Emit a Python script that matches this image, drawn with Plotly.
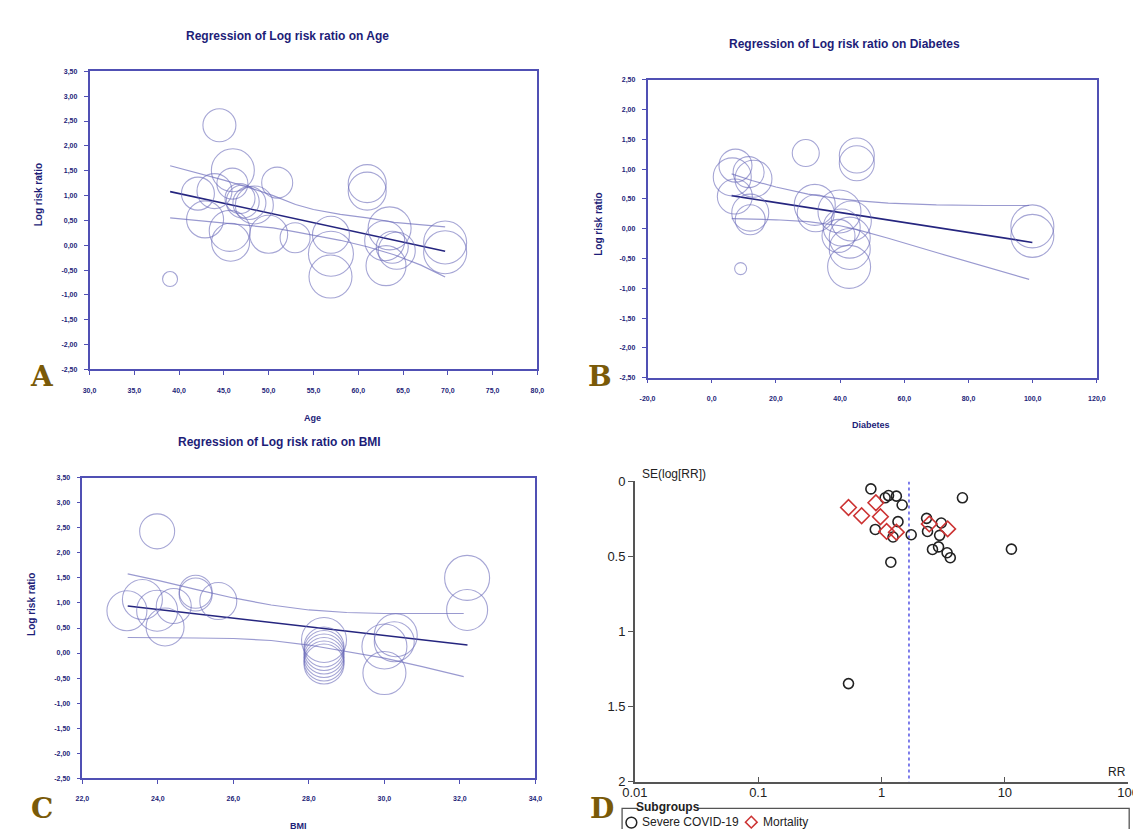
import plotly.graph_objects as go

W, H = 1141, 829

# ---------------- Panel A: Age ----------------
age = [44.5, 46.0, 50.95, 42.1, 43.95, 45.95, 46.8, 47.1, 47.85, 48.4, 42.9, 45.65, 45.75, 50.0,
       52.95, 38.99, 61.0, 61.0, 56.95, 56.95, 56.9, 63.5, 62.95, 63.8, 64.3, 63.1, 69.7, 69.7]
age_lrr = [2.415, 1.51, 1.26, 1.04, 1.09, 1.24, 0.94, 0.88, 0.85, 0.81, 0.52, 0.29, 0.06, 0.22,
           0.15, -0.68, 1.24, 1.09, 0.21, -0.17, -0.63, 0.34, 0.09, -0.04, -0.11, -0.41, 0.055, -0.14]
age_weight = [33, 43, 31, 33, 35, 31, 30, 33, 33, 38, 37, 41, 38, 38,
              30, 15, 38, 38, 37, 45, 43, 43, 40, 32, 37, 40, 43, 43]
age_fit_x = [39.0, 69.7]
age_fit_y = [1.08, -0.12]
age_ci_x = [39, 42, 45, 48, 50.5, 53, 55, 58, 61, 64, 67, 69.7]
age_ci_hi = [1.60, 1.46, 1.31, 1.15, 1.00, 0.82, 0.72, 0.62, 0.55, 0.46, 0.41, 0.37]
age_ci_lo = [0.55, 0.50, 0.45, 0.40, 0.35, 0.27, 0.20, 0.10, -0.03, -0.19, -0.40, -0.64]

# ---------------- Panel B: Diabetes ----------------
diab = [29.3, 45.2, 45.2, 7.4, 11.5, 6.4, 13.0, 7.2, 12.0, 12.0, 9.0, 32.1, 32.4, 39.8, 40.5,
        39.5, 43.5, 43.0, 43.0, 42.8, 99.9, 99.9]
diab_lrr = [1.27, 1.23, 1.10, 1.06, 0.95, 0.87, 0.84, 0.54, 0.27, 0.15, -0.67, 0.40, 0.26, 0.29,
            0.02, -0.12, 0.13, -0.15, -0.34, -0.64, 0.04, -0.12]
diab_weight = [27, 35, 35, 33, 31, 38, 37, 35, 37, 30, 12, 41, 37, 43, 37, 33, 40, 41, 41, 43, 43, 43]
diab_fit_x = [6.2, 99.9]
diab_fit_y = [0.555, -0.23]
diab_ci_x = [6.2, 12.5, 20, 30, 40, 45, 55, 70, 85, 98.9]
diab_ci_hi = [0.92, 0.81, 0.70, 0.58, 0.50, 0.47, 0.43, 0.40, 0.39, 0.39]
diab_ci_lo = [0.17, 0.165, 0.15, 0.12, 0.05, -0.01, -0.16, -0.40, -0.64, -0.85]

# ---------------- Panel C: BMI ----------------
bmi = [23.98, 23.18, 23.59, 23.98, 24.19, 24.42, 25.0, 25.0, 25.6, 28.4, 28.4, 28.4, 28.4, 28.4,
       28.4, 28.4, 30.0, 30.0, 30.3, 30.26, 32.19, 32.19]
bmi_lrr = [2.43, 0.845, 1.07, 0.845, 0.52, 0.94, 1.225, 1.17, 1.04, 0.26, 0.12, 0.05, -0.02, -0.09,
           -0.16, -0.22, 0.13, -0.40, 0.355, 0.225, 1.50, 0.86]
bmi_weight = [35, 40, 40, 41, 38, 35, 33, 33, 37, 45, 40, 40, 40, 40, 40, 40, 45, 43, 43, 40, 45, 41]
bmi_fit_x = [23.2, 32.2]
bmi_fit_y = [0.94, 0.16]
bmi_ci_x = [23.2, 24, 25, 26, 27, 28, 29, 30, 31, 32.1]
bmi_ci_hi = [1.58, 1.45, 1.27, 1.10, 0.96, 0.86, 0.81, 0.79, 0.79, 0.79]
bmi_ci_lo = [0.31, 0.31, 0.30, 0.29, 0.25, 0.16, 0.03, -0.10, -0.27, -0.47]

# ---------------- Panel D: funnel plot ----------------
severe_rr = [0.82, 1.07, 1.14, 1.32, 1.47, 4.53, 1.36, 0.89, 1.24, 1.74, 2.32, 2.36, 3.05, 2.96,
             2.59, 2.90, 3.40, 3.61, 1.19, 11.3, 0.54]
severe_se = [0.05, 0.109, 0.094, 0.098, 0.157, 0.109, 0.268, 0.32, 0.37, 0.355, 0.246, 0.333, 0.277,
             0.359, 0.453, 0.436, 0.475, 0.508, 0.538, 0.451, 1.346]
mort_rr = [0.54, 0.69, 0.90, 0.98, 1.10, 1.32, 2.44, 3.44]
mort_se = [0.174, 0.229, 0.142, 0.235, 0.333, 0.338, 0.283, 0.316]
pooled_rr = 1.67

# ticks
ab_y_ticks_A = [3.5 - 0.5 * i for i in range(13)]
ab_y_ticks_B = [2.5 - 0.5 * i for i in range(11)]
age_ticks = [30, 35, 40, 45, 50, 55, 60, 65, 70, 75, 80]
diab_ticks = [-20, 0, 20, 40, 60, 80, 100, 120]
bmi_ticks = [22, 24, 26, 28, 30, 32, 34]
d_x_ticks = [0.01, 0.1, 1, 10, 100]
d_x_text = ["0.01", "0.1", "1", "10", "100"]
d_y_ticks = [0, 0.5, 1, 1.5, 2]
d_y_text = ["0", "0.5", "1", "1.5", "2"]

NAVY = "#1d1d78"
FRAME = "#5050b4"
CIRC = "rgba(105,105,185,0.85)"
REG = "#25257f"
CI = "#9a9ad0"
GOLD = "#7a5a08"
DTXT = "#222222"


def comma(v, d):
    return f"{v:.{d}f}".replace(".", ",")


def fx(p):
    return p / W


def fy(p):
    return 1 - p / H


fig = go.Figure()


def add_panel(n, xs, ys, ws, fx_, fy_, cx, chi, clo):
    xa = "x" if n == 1 else f"x{n}"
    ya = "y" if n == 1 else f"y{n}"
    fig.add_trace(go.Scatter(x=cx, y=chi, mode="lines", line=dict(color=CI, width=1.2),
                             xaxis=xa, yaxis=ya, showlegend=False, hoverinfo="skip"))
    fig.add_trace(go.Scatter(x=cx, y=clo, mode="lines", line=dict(color=CI, width=1.2),
                             xaxis=xa, yaxis=ya, showlegend=False, hoverinfo="skip"))
    fig.add_trace(go.Scatter(x=fx_, y=fy_, mode="lines", line=dict(color=REG, width=1.6),
                             xaxis=xa, yaxis=ya, showlegend=False))
    fig.add_trace(go.Scatter(x=xs, y=ys, mode="markers", xaxis=xa, yaxis=ya, showlegend=False,
                             marker=dict(symbol="circle-open", size=ws, sizemode="diameter",
                                         color=CIRC, line=dict(width=1.1, color=CIRC))))


add_panel(1, age, age_lrr, age_weight, age_fit_x, age_fit_y, age_ci_x, age_ci_hi, age_ci_lo)
add_panel(2, diab, diab_lrr, diab_weight, diab_fit_x, diab_fit_y, diab_ci_x, diab_ci_hi, diab_ci_lo)
add_panel(3, bmi, bmi_lrr, bmi_weight, bmi_fit_x, bmi_fit_y, bmi_ci_x, bmi_ci_hi, bmi_ci_lo)

# Panel D
fig.add_trace(go.Scatter(x=[pooled_rr, pooled_rr], y=[0, 2], mode="lines", xaxis="x4", yaxis="y4",
                         line=dict(color="#3a3ae0", width=1.3, dash="3px,3px"), showlegend=False))
fig.add_trace(go.Scatter(x=severe_rr, y=severe_se, mode="markers", xaxis="x4", yaxis="y4",
                         name="Severe COVID-19", showlegend=False,
                         marker=dict(symbol="circle-open", size=10, color=DTXT,
                                     line=dict(width=1.6, color=DTXT))))
fig.add_trace(go.Scatter(x=mort_rr, y=mort_se, mode="markers", xaxis="x4", yaxis="y4",
                         name="Mortality", showlegend=False,
                         marker=dict(symbol="diamond-open", size=12, color="#cc3333",
                                     line=dict(width=1.6, color="#cc3333"))))

tick_font = dict(family="Liberation Sans", size=7, color=NAVY, weight="bold")
common = dict(showline=True, mirror=True, linecolor=FRAME, linewidth=1.5, ticks="outside",
              tickcolor=FRAME, ticklen=4, tickwidth=1.2, showgrid=False, zeroline=False,
              tickfont=tick_font, fixedrange=True)
common_x = dict(common, ticklabelstandoff=9)
common_y = dict(common, ticklabelstandoff=5)
d_font = dict(family="Liberation Sans", size=13, color=DTXT)


def dom_x(a, b):
    return [fx(a), fx(b)]


def dom_y(top, bot):
    return [fy(bot), fy(top)]


fig.update_layout(
    width=W, height=H, margin=dict(l=0, r=0, t=0, b=0),
    plot_bgcolor="white", paper_bgcolor="white",
    xaxis=dict(common_x, domain=dom_x(70, 527.5), range=[30, 80], tickvals=age_ticks,
               ticktext=[comma(v, 1) for v in age_ticks], anchor="y"),
    yaxis=dict(common_y, domain=dom_y(57.4, 361), range=[-2.5, 3.5], tickvals=ab_y_ticks_A,
               ticktext=[comma(v, 2) for v in ab_y_ticks_A], anchor="x"),
    xaxis2=dict(common_x, domain=dom_x(640, 1099), range=[-20, 120], tickvals=diab_ticks,
                ticktext=[comma(v, 1) for v in diab_ticks], anchor="y2"),
    yaxis2=dict(common_y, domain=dom_y(66, 369.3), range=[-2.5, 2.5], tickvals=ab_y_ticks_B,
                ticktext=[comma(v, 2) for v in ab_y_ticks_B], anchor="x2"),
    xaxis3=dict(common_x, domain=dom_x(62.7, 525.5), range=[22, 34], tickvals=bmi_ticks,
                ticktext=[comma(v, 1) for v in bmi_ticks], anchor="y3"),
    yaxis3=dict(common_y, domain=dom_y(471.3, 777.3), range=[-2.5, 3.5], tickvals=ab_y_ticks_A,
                ticktext=[comma(v, 2) for v in ab_y_ticks_A], anchor="x3"),
    xaxis4=dict(type="log", domain=dom_x(627, 1131), range=[-2, 2], tickvals=d_x_ticks,
                ticktext=d_x_text, anchor="y4", showline=True, linecolor="#555", linewidth=1.5,
                ticks="inside", ticklen=5, tickcolor="#555", tickwidth=1.3, showgrid=False,
                zeroline=False, tickfont=d_font, ticklabelstandoff=-2),
    yaxis4=dict(domain=dom_y(475, 781), range=[2, 0], tickvals=d_y_ticks, ticktext=d_y_text,
                anchor="x4", showline=True, linecolor="#555", linewidth=1.5, ticks="outside",
                ticklen=5, tickcolor="#555", tickwidth=1.3, showgrid=False, zeroline=False,
                tickfont=d_font),
)

ann = []


def text(x, y, s, size, color=NAVY, bold=True, family="Liberation Sans", angle=0, xanchor="center",
         bg=None):
    d = dict(xref="paper", yref="paper", x=fx(x), y=fy(y), text=f"<b>{s}</b>" if bold else s,
             showarrow=False, font=dict(family=family, size=size, color=color), textangle=angle,
             xanchor=xanchor, yanchor="middle")
    if bg:
        d["bgcolor"] = bg
    ann.append(d)


text(272, 21, "Regression of Log risk ratio on Age", 12)
text(841, 30, "Regression of Log risk ratio on Diabetes", 12)
text(264, 435, "Regression of Log risk ratio on BMI", 12)
text(298, 410, "Age", 9)
text(868, 418, "Diabetes", 9)
text(283, 826, "BMI", 9)
text(18, 183, "Log risk ratio", 10, angle=-90)
text(590, 213, "Log risk ratio", 10, angle=-90)
text(10, 600, "Log risk ratio", 10, angle=-90)
for (lx, ly, L) in [(21, 368, "A"), (591, 368, "B"), (21, 808, "C"), (593, 808, "D")]:
    text(lx, ly, L, 28, color=GOLD, family="DejaVu Serif")

# Panel D texts
text(632, 467, "SE(log[RR])", 12, color=DTXT, bold=False, xanchor="left")
text(1120, 771, "RR", 12, color=DTXT, bold=False)

# Legend box for D
shapes = [
    dict(type="path", xref="paper", yref="paper",
         path=f"M {fx(630)} {fy(808)} L {fx(614)} {fy(808)} L {fx(614)} {fy(835)} "
              f"M {fx(692)} {fy(808)} L {fx(1132)} {fy(808)} L {fx(1132)} {fy(835)}",
         line=dict(color="#555", width=1.3)),
    dict(type="circle", xref="paper", yref="paper", x0=fx(618), x1=fx(629), y0=fy(828), y1=fy(817),
         line=dict(color=DTXT, width=1.5)),
    dict(type="path", xref="paper", yref="paper",
         path=f"M {fx(746)} {fy(816)} L {fx(752)} {fy(822)} L {fx(746)} {fy(828)} "
              f"L {fx(740)} {fy(822)} Z",
         line=dict(color="#cc3333", width=1.5)),
]
text(661, 807, "Subgroups", 12, color=DTXT, bold=True)
text(632, 822, "Severe COVID-19", 12, color=DTXT, bold=False, xanchor="left")
text(756, 822, "Mortality", 12, color=DTXT, bold=False, xanchor="left")

fig.update_layout(annotations=ann, shapes=shapes)
fig.write_html("out.html")
